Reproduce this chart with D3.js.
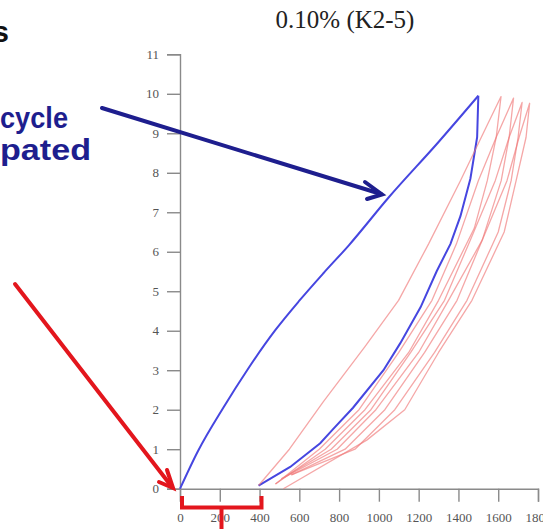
<!DOCTYPE html>
<html>
<head>
<meta charset="utf-8">
<script src="https://cdn.jsdelivr.net/npm/d3@7"></script>
<style>
  html, body { margin: 0; padding: 0; background: #fff; overflow: hidden; }
  svg { display: block; }
</style>
</head>
<body>
<svg id="chart" width="543" height="529"></svg>
<script>
// ---- data ----
const title = "0.10% (K2-5)";
const xTicks = [0, 200, 400, 600, 800, 1000, 1200, 1400, 1600, 1800];
const yTicks = [0, 1, 2, 3, 4, 5, 6, 7, 8, 9, 10, 11];

// first cycle (blue): loading then unloading
const cycle1Load = [[0,0],[90,0.95],[220,2.07],[340,3.02],[480,4.02],[600,4.76],[720,5.45],[850,6.17],[1050,7.38],[1300,8.78],[1500,9.95]];
const cycle1Unload = [[1500,9.95],[1494,8.9],[1460,7.85],[1410,6.9],[1360,6.2],[1290,5.5],[1210,4.6],[1107,3.68],[1023,3.0],[870,2.05],[772,1.52],[705,1.15],[554,0.55],[395,0.08]];

// following cycles (red)
const cycle2 = [[395,0.08],[550,1.0],[720,2.2],[930,3.6],[1099,4.77],[1250,6.2],[1410,7.8],[1515,8.9],[1614,9.93],
                [1590,8.9],[1545,7.8],[1480,6.6],[1300,4.77],[1150,3.45],[930,2.0],[730,1.0],[480,0.12]];
const cycle3 = [[480,0.12],[700,1.0],[900,2.0],[1100,3.45],[1267,4.77],[1390,6.2],[1500,7.8],[1590,8.9],[1677,9.89],
                [1655,8.9],[1615,7.8],[1520,6.3],[1350,4.77],[1200,3.45],[985,2.0],[790,1.0],[510,0.25]];
const cycle4 = [[510,0.25],[760,1.0],[960,2.0],[1160,3.45],[1330,4.77],[1460,6.3],[1585,7.8],[1655,8.9],[1720,9.78],
                [1700,8.9],[1665,7.8],[1600,6.5],[1443,4.77],[1280,3.45],[1080,2.0],[880,1.0],[560,0.35]];
const cycle5 = [[560,0.35],[830,1.0],[1030,2.0],[1230,3.45],[1393,4.77],[1520,6.3],[1644,7.8],[1705,8.9],[1758,9.76],
                [1740,8.9],[1690,7.8],[1630,6.5],[1468,4.77],[1300,3.45],[1130,2.0],[939,1.23],[520,0.0]];
const redCycles = [cycle2, cycle3, cycle4, cycle5];

// slide annotation texts
const noteTop = "s";
const noteLines = ["cycle", "pated"];

// ---- drawing ----
const svg = d3.select("#chart");
const x = d3.scaleLinear().domain([0, 1800]).range([180, 538]);
const y = d3.scaleLinear().domain([0, 11]).range([488.7, 54.3]);

svg.append("text")
  .attr("x", 345).attr("y", 28)
  .attr("text-anchor", "middle")
  .attr("font-family", "'Liberation Serif', 'Times New Roman', serif")
  .attr("font-size", 25)
  .attr("fill", "#222")
  .text(title);

const axisColor = "#8a8a8a";
const labelFont = "'Liberation Serif', 'Times New Roman', serif";

const gx = svg.append("g").attr("transform", `translate(0,${y(0)})`)
  .call(d3.axisBottom(x).tickValues(xTicks).tickFormat(d3.format("d")).tickSize(13).tickPadding(11));
const gy = svg.append("g").attr("transform", `translate(${x(0)},0)`)
  .call(d3.axisLeft(y).tickValues(yTicks).tickFormat(d3.format("d")).tickSize(13).tickPadding(8));
[gx, gy].forEach(g => {
  g.selectAll("path, line").attr("stroke", axisColor).attr("stroke-width", 1.4);
  g.selectAll("text").attr("fill", "#555").attr("font-family", labelFont).attr("font-size", 13);
});

const line = d3.line().x(d => x(d[0])).y(d => y(d[1]));
const smoothLine = d3.line().x(d => x(d[0])).y(d => y(d[1])).curve(d3.curveMonotoneX);

svg.append("path").datum(cycle1Load).attr("d", smoothLine)
  .attr("fill", "none").attr("stroke", "#4646e0").attr("stroke-width", 2);
svg.append("path").datum(cycle1Unload).attr("d", line)
  .attr("fill", "none").attr("stroke", "#4646e0").attr("stroke-width", 2);

svg.selectAll(".red").data(redCycles).enter().append("path")
  .attr("class", "red")
  .attr("d", line)
  .attr("fill", "none")
  .attr("stroke", "#f07878")
  .attr("stroke-opacity", 0.65)
  .attr("stroke-width", 1.3)
  .attr("stroke-linejoin", "round");

// annotations
const navy = "#1e1e8e";
const red = "#e3161d";
svg.append("text").attr("x", 9).attr("y", 42).attr("text-anchor", "end")
  .attr("font-family", "'Liberation Sans', Arial, sans-serif").attr("font-weight", "bold")
  .attr("font-size", 30).attr("fill", "#111").text(noteTop);
svg.selectAll(".note").data(noteLines).enter().append("text")
  .attr("class", "note")
  .attr("x", 0)
  .attr("y", (d, i) => i === 0 ? 128 : 160)
  .attr("textLength", (d, i) => i === 0 ? 68 : 91)
  .attr("lengthAdjust", "spacingAndGlyphs")
  .attr("font-family", "'Liberation Sans', Arial, sans-serif").attr("font-weight", "bold")
  .attr("font-size", 30).attr("fill", navy).text(d => d);

// blue arrow
svg.append("line").attr("x1", 102).attr("y1", 108).attr("x2", 381).attr("y2", 194)
  .attr("stroke", navy).attr("stroke-width", 4).attr("stroke-linecap", "round");
svg.append("path").attr("d", "M365,182 L382,194.5 L367,199")
  .attr("fill", "none").attr("stroke", navy).attr("stroke-width", 4)
  .attr("stroke-linecap", "round").attr("stroke-linejoin", "miter");

// red arrow
svg.append("line").attr("x1", 15).attr("y1", 284).attr("x2", 172).attr("y2", 487)
  .attr("stroke", red).attr("stroke-width", 4).attr("stroke-linecap", "round");
svg.append("path").attr("d", "M167,470 L173,488 L159,482")
  .attr("fill", "none").attr("stroke", red).attr("stroke-width", 4)
  .attr("stroke-linecap", "round").attr("stroke-linejoin", "miter");

// red bracket under the axis
svg.append("path").attr("d", "M182,496 L182,507.5 L261.5,507.5 L261.5,496 M221.5,507.5 L221.5,529")
  .attr("fill", "none").attr("stroke", red).attr("stroke-width", 4);
</script>
</body>
</html>
